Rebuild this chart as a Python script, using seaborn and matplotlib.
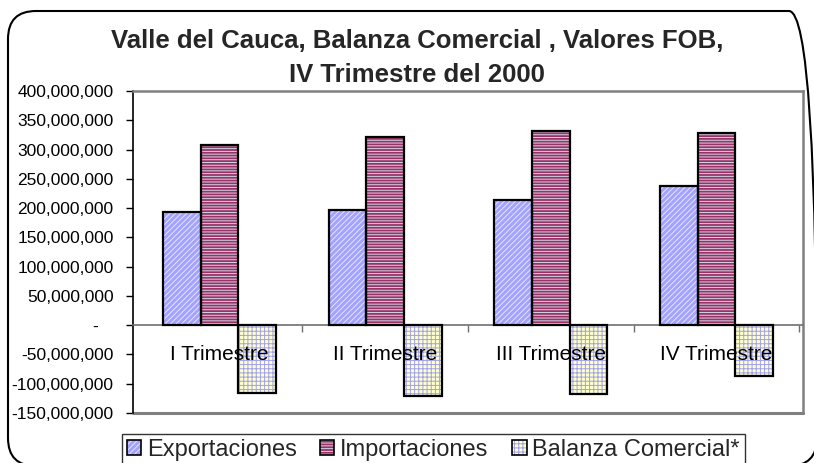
import numpy as np
import pandas as pd
import seaborn as sns
import matplotlib.pyplot as plt
from matplotlib.patches import Rectangle, Patch, FancyBboxPatch
from matplotlib.legend_handler import HandlerTuple
from matplotlib.ticker import FuncFormatter

# datos (valores FOB)
trimestres = ['I Trimestre', 'II Trimestre', 'III Trimestre', 'IV Trimestre']
exportaciones = [193e6, 196e6, 213e6, 237e6]
importaciones = [307e6, 321e6, 331e6, 328e6]
balanza = [-115e6, -121e6, -118e6, -87e6]
series = ['Exportaciones', 'Importaciones', 'Balanza Comercial*']

# estilos de cada serie
relleno = {'Exportaciones': '#A3A3FF', 'Importaciones': '#993366', 'Balanza Comercial*': '#FFFFCC'}
color_trama = {'Exportaciones': '#E4E4FF', 'Importaciones': '#D4D4E8', 'Balanza Comercial*': '#A0A0F0'}
trama = {'Exportaciones': '//////', 'Importaciones': '------', 'Balanza Comercial*': '++++'}

df = pd.DataFrame({
    'Trimestre': trimestres * 3,
    'Serie': np.repeat(series, len(trimestres)),
    'Valor': exportaciones + importaciones + balanza,
})

sns.set_theme(style='white')
plt.rcParams['font.family'] = ['Liberation Sans', 'DejaVu Sans']
plt.rcParams['hatch.linewidth'] = 0.7

fig = plt.figure(figsize=(8.14, 4.63), dpi=100)
ax = fig.add_axes([133 / 814, 50 / 463, 670 / 814, 322 / 463])

sns.barplot(data=df, x='Trimestre', y='Valor', hue='Serie', hue_order=series,
            palette=relleno, width=0.68, saturation=1, linewidth=0,
            legend=False, ax=ax)

# trama + borde negro encima de cada barra
for cont, nombre in zip(ax.containers, series):
    for bar in cont:
        xy, w, h = bar.get_xy(), bar.get_width(), bar.get_height()
        ax.add_patch(Rectangle(xy, w, h, facecolor='none', edgecolor=color_trama[nombre],
                               hatch=trama[nombre], linewidth=0, zorder=3))
        ax.add_patch(Rectangle(xy, w, h, facecolor='none', edgecolor='black',
                               linewidth=1.6, zorder=4))

ax.set_ylim(-150e6, 400e6)
ax.set_yticks(np.arange(-150e6, 400e6 + 1, 50e6))
ax.yaxis.set_major_formatter(FuncFormatter(lambda v, p: '-   ' if v == 0 else f'{v:,.0f}'))
ax.set_xlabel('')
ax.set_ylabel('')

ax.spines['left'].set_color('black')
ax.spines['left'].set_linewidth(1.2)
for s in ['top', 'right']:
    ax.spines[s].set_color('#808080')
    ax.spines[s].set_linewidth(1.8)
ax.spines['bottom'].set_position(('data', 0))
ax.spines['bottom'].set_color('#707070')
ax.spines['bottom'].set_linewidth(1.2)
ax.plot([0, 1], [0, 0], transform=ax.transAxes, color='#808080', lw=2.2, clip_on=False)

ax.tick_params(axis='y', direction='out', length=5, width=1, color='black',
               left=True, pad=9, labelsize=12.5, labelcolor='black')
ax.tick_params(axis='x', which='major', length=0, pad=14, labelsize=15, labelcolor='black')
ax.set_xticks([0.5, 1.5, 2.5, 3.5], minor=True)
ax.tick_params(axis='x', which='minor', direction='out', length=5, width=1,
               color='#707070', bottom=True)
# etiquetas de categoria por encima de las barras
ax.xaxis.set_zorder(6)

# titulo en dos lineas
fig.text(417 / 814, 1 - 41 / 463, 'Valle del Cauca, Balanza Comercial , Valores FOB,',
         ha='center', va='center', fontsize=18.5, fontweight='bold')
fig.text(417 / 814, 1 - 75 / 463, 'IV Trimestre del 2000',
         ha='center', va='center', fontsize=18.5, fontweight='bold')

# leyenda
handles = []
for nombre in series:
    handles.append((Patch(facecolor=relleno[nombre], edgecolor='none'),
                    Patch(facecolor='none', edgecolor=color_trama[nombre], hatch=trama[nombre], linewidth=0),
                    Patch(facecolor='none', edgecolor='black', linewidth=1.2)))
leg = fig.legend(handles, series, handler_map={tuple: HandlerTuple(ndivide=1, pad=0)},
                 loc='upper left', bbox_to_anchor=(122 / 814, 1 - 434 / 463), ncol=3,
                 fontsize=17, frameon=True, fancybox=False, edgecolor='black',
                 borderpad=0.2, handlelength=0.6, handleheight=0.6, handletextpad=0.25,
                 columnspacing=1.0, borderaxespad=0)
leg.get_frame().set_linewidth(1.0)

# borde redondeado del area del grafico
fig.add_artist(FancyBboxPatch((8, -3), 809, 455, boxstyle='round,pad=0,rounding_size=28',
                              transform=None, facecolor='none', edgecolor='black', linewidth=1.5))

fig.savefig('out.png', dpi=100)
